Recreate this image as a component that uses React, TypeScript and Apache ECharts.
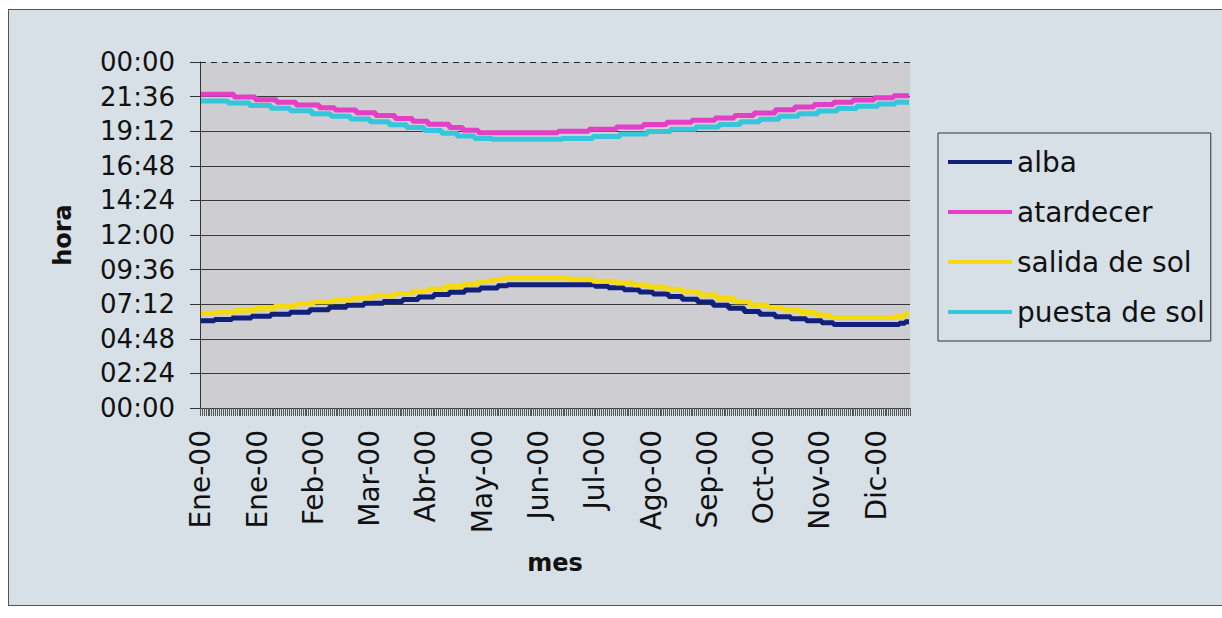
import React, { useEffect, useRef } from "react";
import * as echarts from "echarts";

// Month names (Spanish) and days of year 2000
const MONTHS = ["Ene", "Feb", "Mar", "Abr", "May", "Jun", "Jul", "Ago", "Sep", "Oct", "Nov", "Dic"];
const DAYS_IN_MONTH = [31, 29, 31, 30, 31, 30, 31, 31, 30, 31, 30, 31];
const YEAR = "00";

// Step breakpoints: [day of year, "HH:MM"]
const alba: [number, string][] = [
  [0, "06:03"], [7, "06:08"], [16, "06:15"], [26, "06:22"], [36, "06:30"], [46, "06:39"],
  [56, "06:49"], [66, "06:59"], [75, "07:08"], [84, "07:16"], [94, "07:23"], [104, "07:32"],
  [112, "07:42"], [120, "07:52"], [128, "08:02"], [136, "08:11"], [144, "08:19"], [153, "08:29"],
  [158, "08:33"], [203, "08:27"], [210, "08:20"], [218, "08:12"], [226, "08:03"], [233, "07:54"],
  [241, "07:44"], [248, "07:33"], [256, "07:21"], [264, "07:08"], [272, "06:55"], [280, "06:42"],
  [288, "06:30"], [296, "06:20"], [304, "06:11"], [312, "06:03"], [320, "05:55"], [326, "05:48"],
  [360, "05:53"], [363, "05:59"], [365, "05:59"],
];
const atardecer: [number, string][] = [
  [0, "21:46"], [17, "21:34"], [28, "21:23"], [39, "21:12"], [49, "21:01"], [61, "20:50"],
  [69, "20:40"], [80, "20:29"], [90, "20:17"], [100, "20:05"], [109, "19:53"], [117, "19:41"],
  [128, "19:27"], [135, "19:16"], [143, "19:06"], [184, "19:12"], [200, "19:20"], [214, "19:30"],
  [228, "19:40"], [240, "19:49"], [253, "19:58"], [265, "20:07"], [275, "20:17"], [285, "20:28"],
  [296, "20:41"], [306, "20:53"], [316, "21:03"], [326, "21:13"], [336, "21:22"], [347, "21:31"],
  [357, "21:40"], [365, "21:40"],
];
const salida: [number, string][] = [
  [0, "06:34"], [8, "06:40"], [18, "06:47"], [28, "06:55"], [38, "07:04"], [49, "07:14"],
  [58, "07:22"], [68, "07:30"], [78, "07:38"], [88, "07:47"], [100, "07:57"], [109, "08:06"],
  [117, "08:15"], [126, "08:26"], [135, "08:36"], [143, "08:46"], [150, "08:55"], [156, "09:01"],
  [190, "08:56"], [202, "08:48"], [214, "08:40"], [223, "08:32"], [231, "08:24"], [240, "08:14"],
  [248, "08:04"], [257, "07:50"], [266, "07:36"], [275, "07:22"], [283, "07:09"], [292, "06:58"],
  [300, "06:48"], [309, "06:37"], [317, "06:27"], [324, "06:17"], [358, "06:22"], [363, "06:30"],
  [365, "06:30"],
];
const puesta: [number, string][] = [
  [0, "21:18"], [14, "21:09"], [25, "20:59"], [36, "20:48"], [46, "20:37"], [57, "20:25"],
  [67, "20:14"], [77, "20:03"], [87, "19:51"], [97, "19:39"], [106, "19:27"], [115, "19:15"],
  [124, "19:03"], [132, "18:52"], [141, "18:42"], [150, "18:38"], [186, "18:42"], [202, "18:50"],
  [216, "19:00"], [230, "19:11"], [242, "19:20"], [255, "19:30"], [267, "19:40"], [278, "19:51"],
  [288, "20:02"], [298, "20:14"], [308, "20:25"], [318, "20:36"], [328, "20:46"], [338, "20:56"],
  [349, "21:05"], [358, "21:12"], [365, "21:12"],
];

const SERIES_NAMES = ["alba", "atardecer", "salida de sol", "puesta de sol"];
const SERIES_DATA = [alba, atardecer, salida, puesta];
const SERIES_COLORS = ["#13207a", "#e43fc6", "#f5da10", "#35c6dc"];

const FONT = "DejaVu Sans";

const toMin = (t: string) => {
  const [h, m] = t.split(":").map(Number);
  return h * 60 + m;
};
const fmtTime = (v: number) => {
  const m = Math.round(v) % 1440;
  const h = Math.floor(m / 60);
  const mm = m % 60;
  return `${String(h).padStart(2, "0")}:${String(mm).padStart(2, "0")}`;
};

const categories: string[] = [];
MONTHS.forEach((mn, i) => {
  for (let d = 1; d <= DAYS_IN_MONTH[i]; d++) categories.push(`${d}-${mn}-${YEAR}`);
});

export default function App() {
  const ref = useRef<HTMLDivElement>(null);
  useEffect(() => {
    if (!ref.current) return;
    const chart = echarts.init(ref.current, undefined, { renderer: "svg" });
    chart.setOption({
      animation: false,
      backgroundColor: "transparent",
      grid: {
        left: 200,
        right: 312,
        top: 62,
        bottom: 210,
        show: true,
        backgroundColor: "#cdcdd2",
        borderWidth: 0,
      },
      legend: {
        data: SERIES_NAMES,
        orient: "vertical",
        left: 938,
        top: 133,
        icon: "rect",
        itemWidth: 64,
        itemHeight: 4,
        itemGap: 20,
        padding: [14, 6, 14, 10],
        borderColor: "#333",
        borderWidth: 1,
        textStyle: { fontSize: 28, fontFamily: FONT, color: "#111", lineHeight: 30 },
      },
      xAxis: {
        type: "category",
        data: categories,
        boundaryGap: true,
        name: "mes",
        nameLocation: "middle",
        nameGap: 143,
        nameTextStyle: { fontSize: 24, fontWeight: "bold", fontFamily: FONT, color: "#111" },
        axisLine: { show: true, lineStyle: { color: "#333", width: 1 } },
        axisTick: { show: true, interval: 0, length: 8, lineStyle: { color: "#555", width: 1 } },
        axisLabel: {
          interval: 28,
          rotate: 90,
          margin: 22,
          fontSize: 28,
          fontFamily: FONT,
          color: "#111",
          formatter: (v: string) => v.split("-").slice(1).join("-"),
        },
        splitLine: { show: false },
      },
      yAxis: {
        type: "value",
        min: 0,
        max: 1440,
        interval: 144,
        name: "hora",
        nameLocation: "middle",
        nameGap: 125,
        nameTextStyle: { fontSize: 24, fontWeight: "bold", fontFamily: FONT, color: "#111" },
        axisLine: { show: true, lineStyle: { color: "#333", width: 1 } },
        axisTick: { show: true, length: 10, lineStyle: { color: "#333", width: 1 } },
        axisLabel: {
          margin: 25,
          fontSize: 26,
          fontFamily: FONT,
          color: "#111",
          formatter: (v: number) => fmtTime(v),
        },
        splitLine: { show: true, showMaxLine: false, lineStyle: { color: "#3a3a3a", width: 1 } },
      },
      series: SERIES_NAMES.map((name, i) => ({
        name,
        type: "line",
        step: "end",
        symbol: "none",
        showSymbol: false,
        data: SERIES_DATA[i].map(([d, t]) => [d, toMin(t)]),
        lineStyle: { width: 5, color: SERIES_COLORS[i] },
        itemStyle: { color: SERIES_COLORS[i] },
        markLine:
          i === 0
            ? {
                silent: true,
                symbol: ["none", "none"],
                label: { show: false },
                lineStyle: { type: [6, 5], color: "#222", width: 1 },
                data: [{ yAxis: 1440 }],
              }
            : undefined,
      })),
    });
    return () => chart.dispose();
  }, []);

  return (
    <div style={{ position: "absolute", left: 0, top: 0, width: 1222, height: 618, background: "#fff", overflow: "hidden" }}>
      <div
        style={{
          position: "absolute",
          left: 8,
          top: 9,
          width: 1225,
          height: 595,
          background: "#d7e0e7",
          border: "1px solid #555",
        }}
      />
      <div ref={ref} style={{ position: "absolute", left: 0, top: 0, width: 1222, height: 618 }} />
    </div>
  );
}
